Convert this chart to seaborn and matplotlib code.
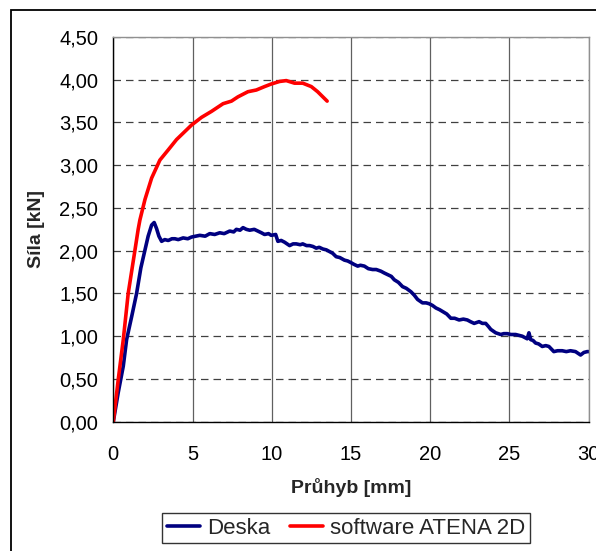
import matplotlib
matplotlib.use("Agg")
import matplotlib.pyplot as plt
from matplotlib.patches import Rectangle
from matplotlib.ticker import FuncFormatter, MultipleLocator
import pandas as pd
import seaborn as sns

deska_x = [0.0, 0.31, 0.63, 0.84, 1.16, 1.47, 1.74, 2.0, 2.2, 2.42, 2.58, 2.73,
           2.88, 3.05, 3.25, 3.47, 3.7, 3.89, 4.1, 4.41, 4.7, 4.94, 5.2, 5.46,
           5.8, 6.09, 6.4, 6.72, 7.0, 7.35, 7.6, 7.77, 8.0, 8.19, 8.4, 8.61,
           8.9, 9.13, 9.35, 9.55, 9.8, 9.97, 10.25, 10.39, 10.6, 10.81, 11.13,
           11.35, 11.55, 11.8, 11.96, 12.2, 12.39, 12.6, 12.81, 13.0, 13.23,
           13.45, 13.65, 13.85, 14.07, 14.3, 14.59, 14.8, 15.01, 15.2, 15.43,
           15.6, 15.85, 16.1, 16.37, 16.6, 16.9, 17.1, 17.32, 17.55, 17.74,
           18.0, 18.26, 18.5, 18.79, 19.0, 19.21, 19.52, 19.75, 19.94, 20.15,
           20.37, 20.6, 20.78, 21.05, 21.31, 21.55, 21.83, 22.1, 22.35, 22.55,
           22.78, 23.09, 23.3, 23.51, 23.7, 23.83, 24.14, 24.46, 24.65, 24.87,
           25.1, 25.4, 25.6, 25.82, 26.13, 26.24, 26.35, 26.5, 26.66, 26.85,
           27.08, 27.3, 27.5, 27.81, 28.05, 28.34, 28.6, 28.86, 29.18, 29.5,
           29.71, 29.92, 30.0]
deska_y = [0.0, 0.34, 0.65, 0.96, 1.23, 1.50, 1.80, 2.01, 2.17, 2.30, 2.33, 2.26,
           2.17, 2.11, 2.13, 2.12, 2.14, 2.14, 2.13, 2.15, 2.14, 2.16, 2.17, 2.18,
           2.17, 2.20, 2.19, 2.21, 2.20, 2.23, 2.22, 2.25, 2.24, 2.27, 2.25, 2.24,
           2.25, 2.23, 2.21, 2.19, 2.20, 2.18, 2.19, 2.11, 2.12, 2.10, 2.06,
           2.08, 2.08, 2.07, 2.08, 2.06, 2.06, 2.05, 2.03, 2.04, 2.02,
           2.01, 1.99, 1.97, 1.93, 1.92, 1.89, 1.88, 1.86, 1.84, 1.82,
           1.83, 1.82, 1.79, 1.78, 1.78, 1.76, 1.74, 1.72, 1.70, 1.66,
           1.63, 1.58, 1.56, 1.52, 1.48, 1.43, 1.39, 1.39, 1.38, 1.36,
           1.33, 1.31, 1.29, 1.26, 1.21, 1.21, 1.19, 1.20, 1.19, 1.17,
           1.15, 1.17, 1.15, 1.15, 1.11, 1.08, 1.04, 1.02, 1.03, 1.03,
           1.02, 1.02, 1.01, 1.00, 0.97, 1.04, 0.96, 0.95, 0.92, 0.91,
           0.88, 0.89, 0.88, 0.82, 0.83, 0.83, 0.82, 0.83, 0.82, 0.78,
           0.81, 0.82, 0.82]

# software ATENA 2D
atena_x = [0.0, 0.31, 0.63, 0.94, 1.37, 1.57, 1.68, 2.0, 2.42, 2.94, 3.47,
           3.99, 4.94, 5.57, 6.2, 6.93, 7.46, 7.87, 8.5, 9.03, 9.55, 9.97,
           10.5, 10.92, 11.44, 11.96, 12.5, 12.9, 13.5]
atena_y = [0.0, 0.49, 0.96, 1.50, 2.01, 2.25, 2.36, 2.60, 2.85, 3.06, 3.18,
           3.30, 3.47, 3.56, 3.63, 3.72, 3.75, 3.80, 3.86, 3.88, 3.92, 3.95,
           3.98, 3.99, 3.96, 3.96, 3.92, 3.86, 3.75]

series_names = ["Deska", "software ATENA 2D"]
series_colors = ["#000080", "#FF0000"]

df = pd.concat([
    pd.DataFrame({"x": deska_x, "y": deska_y, "serie": series_names[0]}),
    pd.DataFrame({"x": atena_x, "y": atena_y, "serie": series_names[1]}),
], ignore_index=True)

sns.set_theme(style="white")
plt.rcParams["font.family"] = ["Liberation Sans", "DejaVu Sans"]

fig = plt.figure(figsize=(5.96, 5.51), dpi=100)
ax = fig.add_axes([113.3 / 596, 1 - 421.7 / 551, (588.5 - 113.3) / 596, (421.7 - 37) / 551])

sns.lineplot(data=df, x="x", y="y", hue="serie", palette=series_colors,
             sort=False, estimator=None, linewidth=2.6, ax=ax, legend=False)

ax.set_xlim(0, 30)
ax.set_ylim(0, 4.5)
ax.xaxis.set_major_locator(MultipleLocator(5))
ax.yaxis.set_major_locator(MultipleLocator(0.5))
ax.yaxis.set_major_formatter(FuncFormatter(lambda v, p: f"{v:.2f}".replace(".", ",")))
ax.xaxis.set_major_formatter(FuncFormatter(lambda v, p: f"{v:.0f}"))

ax.xaxis.grid(True, color="#606060", linewidth=0.9, linestyle="-")
ax.yaxis.grid(True, color="#404040", linewidth=0.9, linestyle=(0, (6, 4)))
ax.set_axisbelow(True)

for side in ["left", "bottom"]:
    ax.spines[side].set_color("black")
    ax.spines[side].set_linewidth(1.0)
for side in ["top", "right"]:
    ax.spines[side].set_color("#909090")
    ax.spines[side].set_linewidth(1.0)

ax.tick_params(axis="both", direction="out", length=5, width=1, color="black",
               labelsize=14.5, labelcolor="black")
ax.tick_params(axis="x", pad=12)
ax.tick_params(axis="y", pad=6)

ax.set_xlabel("Průhyb [mm]", fontsize=14, fontweight="bold", labelpad=10)
ax.set_ylabel("Síla [kN]", fontsize=14, fontweight="bold", labelpad=10)

handles = [plt.Line2D([], [], color=c, linewidth=2.6) for c in series_colors]
leg = fig.legend(handles, series_names, loc="center", bbox_to_anchor=(346 / 596, 1 - 528 / 551),
                 ncol=2, frameon=True, fancybox=False, fontsize=16, handlelength=1.5,
                 handletextpad=0.3, columnspacing=0.9, borderpad=0.2)
leg.get_frame().set_edgecolor("black")
leg.get_frame().set_linewidth(1.0)

# outer chart border
fig.patches.append(Rectangle((11 / 596, -0.1), 1.2, 1 - 10 / 551 + 0.1, transform=fig.transFigure,
                             fill=False, edgecolor="black", linewidth=1.3))

fig.savefig("out.png", dpi=100)
